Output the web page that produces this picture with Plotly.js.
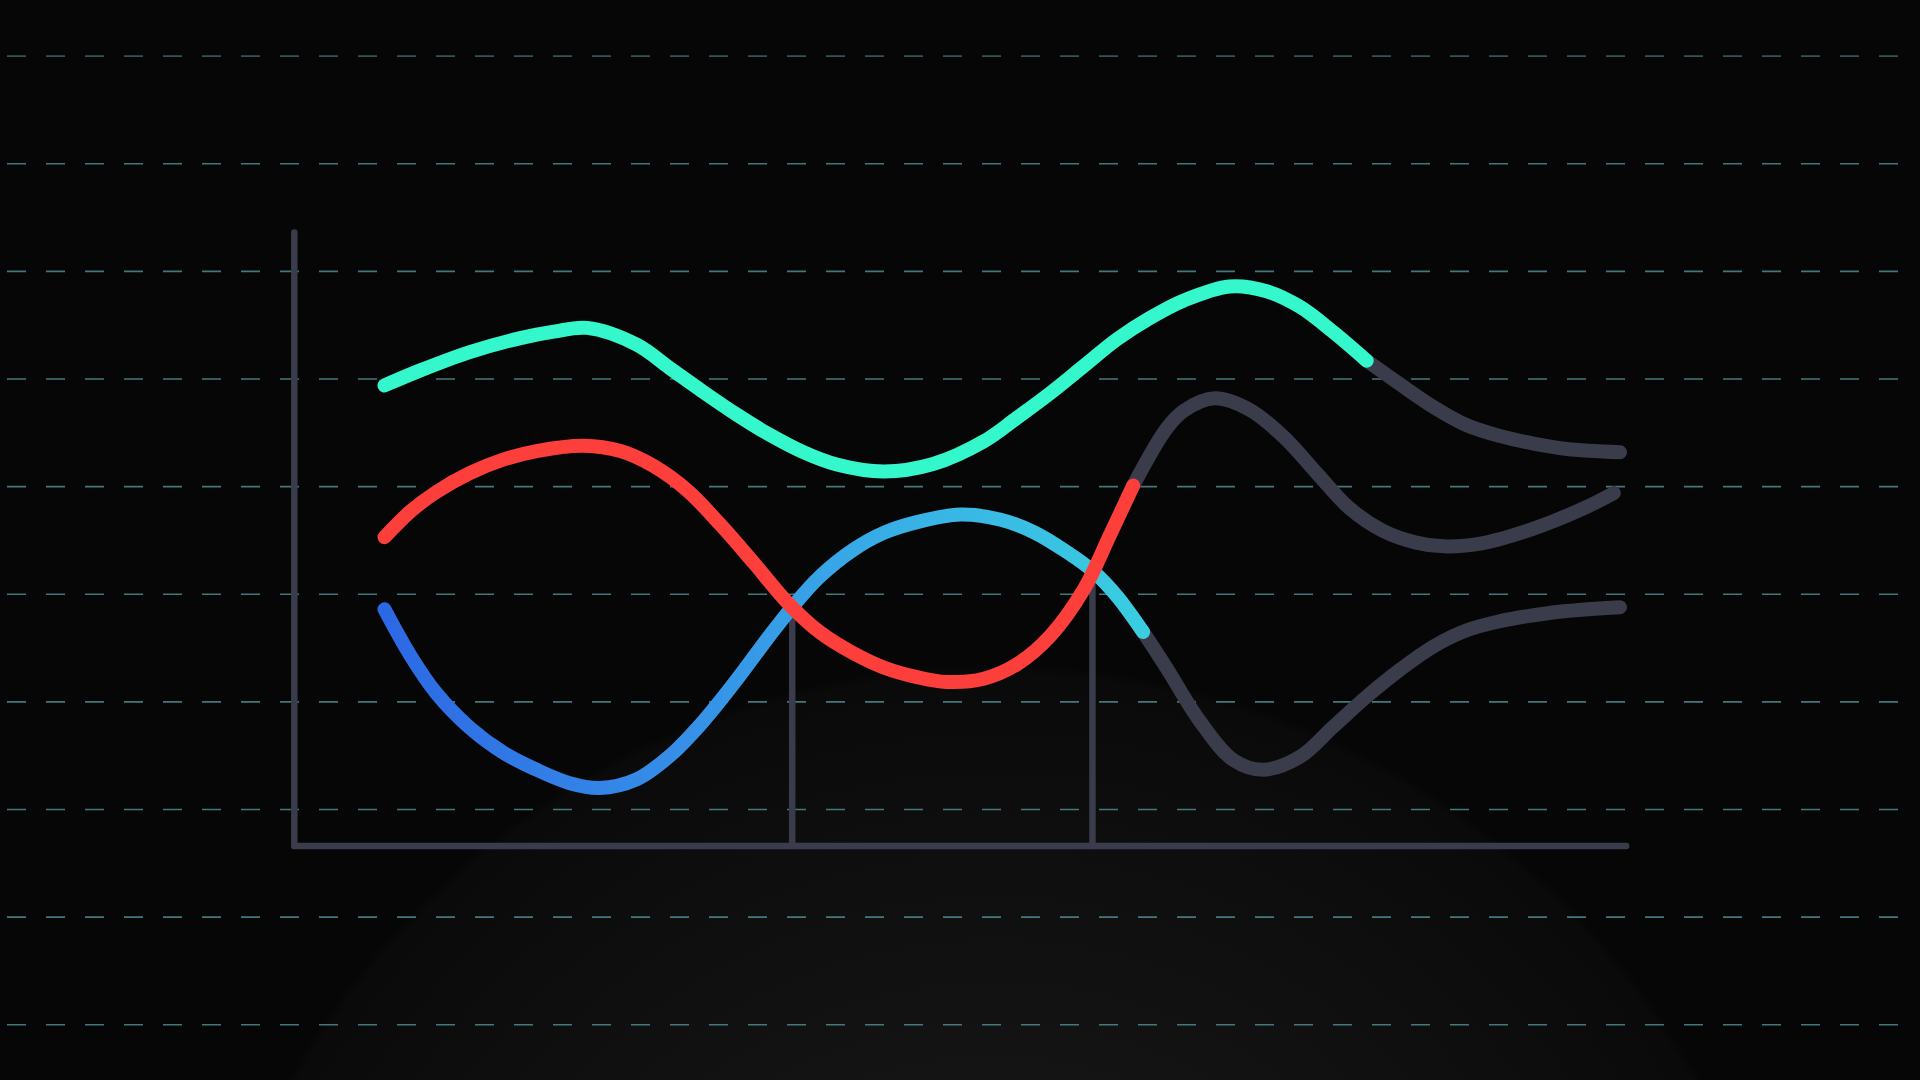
<!DOCTYPE html>
<html><head><meta charset="utf-8">
<script src="https://cdn.plot.ly/plotly-3.0.1.min.js"></script>
<style>
html,body{margin:0;padding:0;width:1920px;height:1080px;overflow:hidden;}
body{background: radial-gradient(circle 810px at 994px 1474px, #1a1a1a 0px, #161616 330px, #121212 470px, #0e0e0e 640px, #0a0a0a 800px, #060606 810px), #060606;}
#chart{width:1920px;height:1080px;}
</style></head><body><div id="chart"></div>
<script>
// ---- data (x: time units, y: value units) ----
const tealX = [0, 0.29, 0.69, 1.10, 1.37, 1.64, 2.04, 2.31, 2.58, 2.85, 3.12, 3.39, 3.66, 4.04, 4.44, 4.85, 5.12, 5.39, 5.66, 5.93, 6.20, 6.47, 6.84, 7.14, 7.41, 7.68, 7.95];
const tealY = [42.8, 44.2, 45.9, 47.2, 47.8, 48.15, 46.6, 44.4, 42.2, 40.1, 38.2, 36.6, 35.45, 34.8, 35.5, 37.6, 39.8, 42.1, 44.6, 47.1, 49.1, 50.7, 52.0, 51.55, 50.1, 47.75, 45.1];
const tealTailX = [7.95, 8.22, 8.49, 8.76, 9.03, 9.30, 9.57, 10];
const tealTailY = [45.1, 42.9, 40.8, 39.1, 38.1, 37.4, 36.9, 36.6];

const redX = [0, 0.21, 0.42, 0.69, 0.96, 1.23, 1.61, 1.91, 2.18, 2.45, 2.72, 2.99, 3.26, 3.52, 3.79, 4.04, 4.31, 4.55, 4.85, 5.12, 5.39, 5.66, 5.87, 6.06];
const redY = [28.7, 31.1, 32.9, 34.65, 35.9, 36.7, 37.2, 36.7, 35.3, 33.05, 29.85, 26.3, 22.65, 19.9, 17.95, 16.6, 15.7, 15.25, 15.55, 16.9, 19.55, 23.85, 28.85, 33.5];
const redTailX = [6.06, 6.33, 6.47, 6.72, 7.00, 7.28, 7.55, 7.81, 8.08, 8.35, 8.57, 8.89, 9.30, 9.70, 9.95];
const redTailY = [33.5, 38.8, 40.45, 41.6, 40.55, 38.0, 34.6, 31.4, 29.3, 28.2, 27.85, 28.15, 29.5, 31.35, 32.8];

const blueX = [0, 0.21, 0.42, 0.69, 0.96, 1.23, 1.50, 1.74, 2.04, 2.31, 2.58, 2.85, 3.12, 3.30, 3.52, 3.79, 4.04, 4.31, 4.66, 4.98, 5.25, 5.52, 5.74, 5.93, 6.14];
const blueY = [22.0, 17.7, 14.2, 11.0, 8.7, 7.1, 5.85, 5.4, 6.2, 8.4, 11.6, 15.45, 19.6, 22.2, 25.0, 27.5, 29.1, 30.1, 30.8, 30.35, 29.2, 27.35, 25.5, 23.2, 19.9];
const blueTailX = [6.14, 6.33, 6.60, 6.87, 7.11, 7.41, 7.68, 7.95, 8.22, 8.49, 8.76, 9.03, 9.30, 9.57, 10];
const blueTailY = [19.9, 16.55, 11.6, 8.0, 7.1, 8.3, 11.1, 13.9, 16.4, 18.55, 20.05, 20.9, 21.45, 21.85, 22.2];

const dropX = [3.30, 5.73];
const dropY = [22.0, 25.5];

const gridY = [73.4, 63.4, 53.4, 43.4, 33.4, 23.4, 13.4, 3.4, -6.6, -16.6];

const axisOriginX = -0.73;
const axisEndX = 10.05;
const axisTopY = 57.0;

// ---- styles ----
const GREY = '#3a3b4b';
const LW = 14;
function line(x, y, color) {
  return {x: x, y: y, type: 'scatter', mode: 'lines', hoverinfo: 'skip',
          line: {color: color, width: LW, shape: 'spline', smoothing: 1, simplify: false}};
}
const traces = [
  line(redTailX, redTailY, GREY),
  line(blueTailX, blueTailY, GREY),
  line(tealTailX, tealTailY, GREY),
  line(blueX, blueY, '#3794e8'),
  line(redX, redY, '#fd3f3c'),
  line(tealX, tealY, '#35f7cc')
];

const shapes = [];
gridY.forEach((g, i) => {
  shapes.push({type: 'line', xref: 'paper', yref: 'y', x0: 7/1920, x1: 1900/1920, y0: g, y1: g,
    layer: 'below', line: {color: i === 0 ? 'rgba(70,110,115,0.75)' : 'rgba(80,140,145,0.85)', width: 1.6, dash: '19px,20px'}});
});
dropX.forEach((dx, i) => {
  shapes.push({type: 'line', xref: 'x', yref: 'y', x0: dx, x1: dx, y0: 0, y1: dropY[i],
    layer: 'below', line: {color: GREY, width: 6.5}});
});
shapes.push({type: 'line', xref: 'x', yref: 'y', x0: axisOriginX, x1: axisOriginX, y0: 0, y1: axisTopY,
  layer: 'below', line: {color: GREY, width: 6.5}});
shapes.push({type: 'line', xref: 'x', yref: 'y', x0: axisOriginX, x1: axisEndX, y0: 0, y1: 0,
  layer: 'below', line: {color: GREY, width: 6.5}});

const layout = {
  width: 1920, height: 1080,
  margin: {l: 0, r: 0, t: 0, b: 0, pad: 0},
  paper_bgcolor: 'rgba(0,0,0,0)', plot_bgcolor: 'rgba(0,0,0,0)',
  showlegend: false, hovermode: false,
  xaxis: {range: [-3.112, 12.428], visible: false, fixedrange: true},
  yaxis: {range: [-21.73, 78.61], visible: false, fixedrange: true},
  shapes: shapes
};

Plotly.newPlot('chart', traces, layout, {staticPlot: true, displayModeBar: false}).then(gd => {
  const svg = gd.querySelector('.main-svg');
  const ns = 'http://www.w3.org/2000/svg';
  let defs = svg.querySelector('defs');
  if (!defs) { defs = document.createElementNS(ns, 'defs'); svg.insertBefore(defs, svg.firstChild); }
  const grad = document.createElementNS(ns, 'linearGradient');
  grad.setAttribute('id', 'blueGrad');
  grad.setAttribute('gradientUnits', 'userSpaceOnUse');
  grad.setAttribute('x1', '384'); grad.setAttribute('x2', '1143');
  grad.setAttribute('y1', '0'); grad.setAttribute('y2', '0');
  [[0, '#2d68e4'], [0.4, '#3690e8'], [0.7, '#38b2e6'], [1, '#3acde0']].forEach(s => {
    const st = document.createElementNS(ns, 'stop');
    st.setAttribute('offset', s[0]); st.setAttribute('stop-color', s[1]);
    grad.appendChild(st);
  });
  defs.appendChild(grad);
  const tr = gd.querySelectorAll('.scatterlayer .trace');
  tr.forEach((t, i) => {
    const p = t.querySelector('path.js-line');
    if (!p) return;
    p.style.strokeLinecap = 'round';
    p.style.strokeLinejoin = 'round';
    if (i === 3) p.style.stroke = 'url(#blueGrad)';
  });
  gd.querySelectorAll('.shapelayer path').forEach(p => {
    if ((p.style.strokeDasharray || '').length) p.style.strokeLinecap = 'butt';
    else p.style.strokeLinecap = 'round';
  });
});
</script></body></html>
